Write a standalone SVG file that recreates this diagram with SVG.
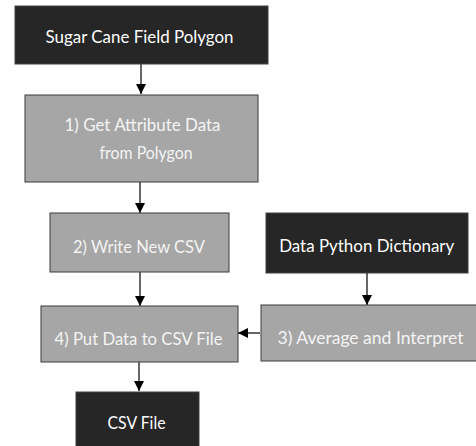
<svg xmlns="http://www.w3.org/2000/svg" width="476" height="446" viewBox="0 0 476 446">
  <defs>
    <marker id="arrow" viewBox="0 0 10 10" refX="10" refY="5" markerWidth="10" markerHeight="10" markerUnits="userSpaceOnUse" orient="auto">
      <path d="M0,0 L10,5 L0,10 Z" fill="#000"/>
    </marker>
    <style>
      .dark { fill: #262626; stroke: #404040; stroke-width: 1; }
      .gray { fill: #a6a6a6; stroke: #3a3a3a; stroke-width: 1; }
      text { font-family: Lato, "Open Sans", "Liberation Sans", sans-serif; font-size: 18px; text-anchor: middle; }
      .dark-label { fill: #ffffff; }
      .gray-label { fill: #f4f4f4; }
      .edge { stroke: #000; stroke-width: 1.2; fill: none; marker-end: url(#arrow); }
    </style>
  </defs>
  <rect width="476" height="446" fill="#ffffff"/>

  <g id="connectors">
    <line class="edge" x1="141" y1="64" x2="141" y2="94"/>
    <line class="edge" x1="140" y1="182" x2="140" y2="213"/>
    <line class="edge" x1="140" y1="272" x2="140" y2="306"/>
    <line class="edge" x1="367" y1="273" x2="367" y2="305"/>
    <line class="edge" x1="260" y1="333" x2="238" y2="333"/>
    <line class="edge" x1="139" y1="362" x2="139" y2="391"/>
  </g>

  <g id="sugar-cane-field-polygon">
    <rect class="dark" x="15" y="6" width="253" height="58"/>
    <text class="dark-label" x="139.5" y="42.5" textLength="188" lengthAdjust="spacingAndGlyphs">Sugar Cane Field Polygon</text>
  </g>

  <g id="get-attribute-data">
    <rect class="gray" x="25" y="95" width="233" height="87"/>
    <text class="gray-label" x="142.5" y="131" textLength="156" lengthAdjust="spacingAndGlyphs">1) Get Attribute Data</text>
    <text class="gray-label" x="146" y="158.5" textLength="93" lengthAdjust="spacingAndGlyphs">from Polygon</text>
  </g>

  <g id="write-new-csv">
    <rect class="gray" x="50" y="213" width="179" height="59"/>
    <text class="gray-label" x="139" y="252.5" textLength="132" lengthAdjust="spacingAndGlyphs">2) Write New CSV</text>
  </g>

  <g id="data-python-dictionary">
    <rect class="dark" x="266" y="213" width="202" height="60"/>
    <text class="dark-label" x="366.7" y="251.5" textLength="175" lengthAdjust="spacingAndGlyphs">Data Python Dictionary</text>
  </g>

  <g id="average-and-interpret">
    <rect class="gray" x="261" y="305" width="216" height="56"/>
    <text class="gray-label" x="370.5" y="344" textLength="186" lengthAdjust="spacingAndGlyphs">3) Average and Interpret</text>
  </g>

  <g id="put-data-to-csv-file">
    <rect class="gray" x="41" y="306" width="197" height="56"/>
    <text class="gray-label" x="138.5" y="345" textLength="168" lengthAdjust="spacingAndGlyphs">4) Put Data to CSV File</text>
  </g>

  <g id="csv-file">
    <rect class="dark" x="76" y="392" width="123" height="60"/>
    <text class="dark-label" x="136.5" y="429" textLength="58" lengthAdjust="spacingAndGlyphs">CSV File</text>
  </g>
</svg>
